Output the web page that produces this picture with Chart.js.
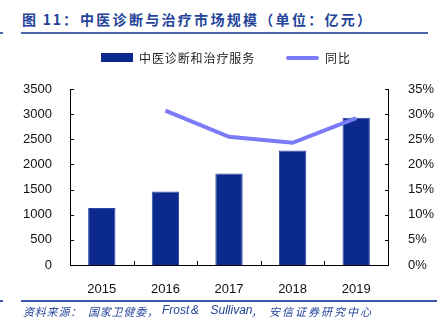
<!DOCTYPE html>
<html>
<head>
<meta charset="utf-8">
<script src="https://cdn.jsdelivr.net/npm/chart.js@4/dist/chart.umd.min.js"></script>
<style>
  html, body { margin: 0; padding: 0; background: #fff; }
  #wrap { position: relative; width: 441px; height: 335px; overflow: hidden; }
  #chart { position: absolute; left: 0; top: 0; }
  .title { position: absolute; top: 9px; font: bold 14px "Noto Sans CJK SC", sans-serif; color: #23449a; white-space: nowrap; line-height: 20px; }
  .rule { position: absolute; background: #4d66aa; }
  .src { position: absolute; top: 302.5px; font: italic 11px "Noto Sans CJK SC", sans-serif; letter-spacing: 0.8px; color: #23449a; white-space: nowrap; line-height: 17px; }
  .src.latin { font: italic 12px "Liberation Sans", Arial, sans-serif; letter-spacing: 0; }
  #legend { position: absolute; top: 48px; left: 0; width: 441px; height: 20px; font: 12px "Noto Sans CJK SC", sans-serif; letter-spacing: 0.9px; color: #222; }
  #legend .item { position: absolute; top: 0; height: 20px; line-height: 20px; white-space: nowrap; }
  #legend .swatch { position: absolute; }
</style>
</head>
<body>
<div id="wrap">
  <div class="title" style="left:22px; letter-spacing:1.8px;">图 11：</div>
  <div class="title" style="left:80px; letter-spacing:2.3px;">中医诊断与治疗市场规模（单位：亿元）</div>
  <div class="rule" style="left:21px; top:32px; width:407px; height:2px;"></div>
  <div class="rule" style="left:0; top:32px; width:3px; height:2px;"></div>
  <canvas id="chart" width="441" height="335"></canvas>
  <div id="legend"></div>
  <div class="rule" style="left:21px; top:300px; width:416px; height:1.5px; background:#3c56a3;"></div>
  <div class="rule" style="left:0; top:300px; width:3px; height:1.5px; background:#3c56a3;"></div>
  <div class="src" style="left:23px;">资料来源：</div>
  <div class="src" style="left:88px;">国家卫健委，</div>
  <div class="src latin" style="left:162px; top:303px;">Frost</div>
  <div class="src latin" style="left:191px; top:303px;">&amp;</div>
  <div class="src latin" style="left:210.5px; top:303px;">Sullivan</div>
  <div class="src" style="left:251px;">，</div>
  <div class="src" style="left:269px; letter-spacing:2px;">安信证券研究中心</div>
</div>
<script>
// Categories and series
const years = ['2015', '2016', '2017', '2018', '2019'];
const marketSize = [1133, 1464, 1822, 2279, 2929];      // 亿元
const yoyGrowth = [null, 30.7, 25.5, 24.3, 29.2];       // %
const sizeTicks = { min: 0, max: 3500, step: 500 };
const growthTicks = { min: 0, max: 35, step: 5 };

const BAR_COLOR = '#0c2a8e';
const LINE_COLOR = '#7b7bf7';

// Short inward-pointing tick marks on all three axes
const innerTicks = {
  id: 'innerTicks',
  afterDraw(chart) {
    const ctx = chart.ctx;
    const area = chart.chartArea;
    ctx.save();
    ctx.strokeStyle = '#000';
    ctx.lineWidth = 1;
    ctx.beginPath();
    const y = chart.scales.y;
    y.ticks.forEach((t, i) => {
      const p = Math.round(y.getPixelForTick(i)) + 0.5;
      ctx.moveTo(area.left, p); ctx.lineTo(area.left + 4, p);
    });
    const y1 = chart.scales.y1;
    y1.ticks.forEach((t, i) => {
      const p = Math.round(y1.getPixelForTick(i)) + 0.5;
      ctx.moveTo(area.right, p); ctx.lineTo(area.right - 3, p);
    });
    const x = chart.scales.x;
    for (let i = 0; i < years.length - 1; i++) {
      const p = Math.round((x.getPixelForValue(i) + x.getPixelForValue(i + 1)) / 2) + 0.5;
      ctx.moveTo(p, area.bottom); ctx.lineTo(p, area.bottom - 4);
    }
    ctx.stroke();
    ctx.restore();
  }
};

Chart.defaults.font.family = '"Liberation Sans", Arial, sans-serif';
Chart.defaults.font.size = 13;
Chart.defaults.color = '#111';

const chart = new Chart(document.getElementById('chart'), {
  type: 'bar',
  data: {
    labels: years,
    datasets: [
      {
        type: 'bar',
        label: '中医诊断和治疗服务',
        data: marketSize,
        backgroundColor: BAR_COLOR,
        borderColor: '#2a46a6',
        borderWidth: 1,
        barPercentage: 0.43,
        categoryPercentage: 1,
        yAxisID: 'y',
        order: 2
      },
      {
        type: 'line',
        label: '同比',
        data: yoyGrowth,
        borderColor: LINE_COLOR,
        backgroundColor: LINE_COLOR,
        borderWidth: 4,
        pointRadius: 0,
        tension: 0,
        yAxisID: 'y1',
        order: 1
      }
    ]
  },
  options: {
    responsive: false,
    animation: false,
    layout: { padding: { left: 10, right: 0, top: 89, bottom: 40 } },
    plugins: { legend: { display: false }, tooltip: { enabled: false } },
    scales: {
      x: {
        offset: true,
        grid: { display: false },
        border: { color: '#000', width: 1 },
        ticks: { padding: 9 },
        afterFit(s) { s.height = 30; }
      },
      y: {
        position: 'left',
        min: sizeTicks.min, max: sizeTicks.max,
        ticks: { stepSize: sizeTicks.step, padding: 10, callback: v => String(v) },
        grid: { display: false },
        border: { color: '#000', width: 1 },
        afterFit(s) { s.width = 60; }
      },
      y1: {
        position: 'right',
        min: growthTicks.min, max: growthTicks.max,
        ticks: { stepSize: growthTicks.step, padding: 12, callback: v => v + '%' },
        grid: { display: false },
        border: { color: '#000', width: 1 },
        afterFit(s) { s.width = 53; }
      }
    }
  },
  plugins: [innerTicks]
});

// Legend built from the datasets
const legend = document.getElementById('legend');
const layout = [
  { swatchLeft: 101, textLeft: 139 },
  { swatchLeft: 286, textLeft: 325 }
];
chart.data.datasets.forEach((ds, i) => {
  const sw = document.createElement('div');
  sw.className = 'swatch';
  sw.style.left = layout[i].swatchLeft + 'px';
  if (ds.type === 'bar') {
    sw.style.top = '5px'; sw.style.width = '32px'; sw.style.height = '9px';
  } else {
    sw.style.top = '8px'; sw.style.width = '33px'; sw.style.height = '4px';
    sw.style.borderRadius = '2px';
  }
  sw.style.background = ds.backgroundColor;
  legend.appendChild(sw);
  const tx = document.createElement('div');
  tx.className = 'item';
  tx.style.left = layout[i].textLeft + 'px';
  tx.textContent = ds.label;
  legend.appendChild(tx);
});
</script>
</body>
</html>
